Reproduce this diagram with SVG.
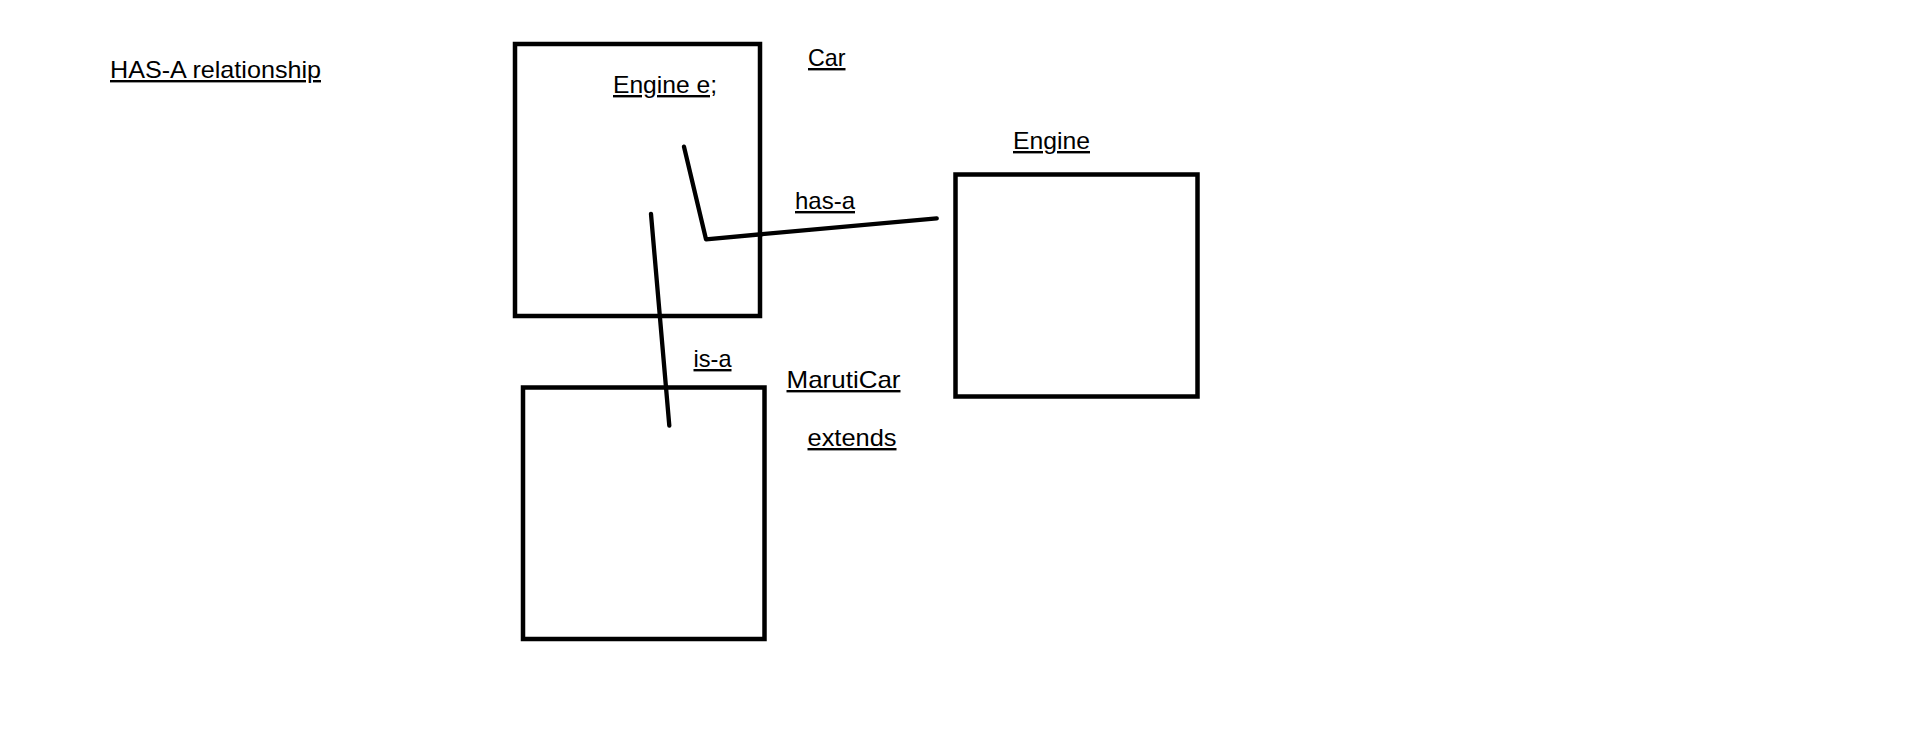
<svg xmlns="http://www.w3.org/2000/svg" width="1914" height="740" viewBox="0 0 1914 740">
  <style>
    .box { fill: none; stroke: #000; stroke-width: 4.5; }
    .conn { fill: none; stroke: #000; stroke-width: 4.3; stroke-linecap: round; stroke-linejoin: round; }
    .lbl { font-family: "Liberation Sans", Arial, sans-serif; font-size: 24px; fill: #000; text-decoration: underline; text-decoration-skip-ink: none; text-decoration-thickness: 2.5px; text-underline-offset: 3.5px; }
  </style>
  <rect x="0" y="0" width="1914" height="740" fill="#fff"/>
  <g id="title">
    <text class="lbl" x="110" y="78" textLength="211" lengthAdjust="spacingAndGlyphs">HAS-A relationship</text>
  </g>
  <g id="car">
    <rect class="box" x="515" y="44" width="245" height="272"/>
    <text class="lbl" x="808" y="66" textLength="37.5" lengthAdjust="spacingAndGlyphs">Car</text>
    <text class="lbl" x="613" y="93" textLength="104" lengthAdjust="spacingAndGlyphs">Engine e;</text>
  </g>
  <g id="engine">
    <rect class="box" x="955.5" y="174.5" width="242" height="222"/>
    <text class="lbl" x="1013" y="149" textLength="77" lengthAdjust="spacingAndGlyphs">Engine</text>
  </g>
  <g id="marutiCar">
    <rect class="box" x="523" y="387.5" width="241.5" height="251.5"/>
    <text class="lbl" x="786.5" y="388" textLength="114" lengthAdjust="spacingAndGlyphs">MarutiCar</text>
    <text class="lbl" x="807.5" y="446" textLength="89" lengthAdjust="spacingAndGlyphs">extends</text>
  </g>
  <g id="connectors">
    <polyline class="conn" points="684,146.7 706,239.3 936.7,218.3"/>
    <line class="conn" x1="651" y1="214" x2="669.3" y2="425.5"/>
    <text class="lbl" x="795" y="209" textLength="60" lengthAdjust="spacingAndGlyphs">has-a</text>
    <text class="lbl" x="693.5" y="367" textLength="38" lengthAdjust="spacingAndGlyphs">is-a</text>
  </g>
</svg>
